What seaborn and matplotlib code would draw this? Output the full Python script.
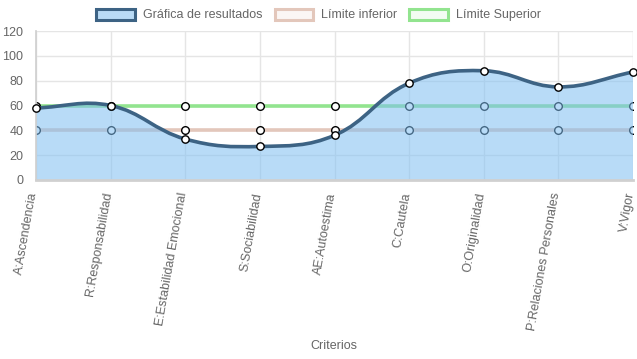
import matplotlib
matplotlib.use("Agg")
import matplotlib.pyplot as plt
import matplotlib.transforms as mtransforms
from matplotlib.path import Path
from matplotlib.patches import PathPatch, Patch
import numpy as np
import seaborn as sns

criterios = ["A:Ascendencia", "R:Responsabilidad", "E:Estabilidad Emocional",
             "S:Sociabilidad", "AE:Autoestima", "C:Cautela", "O:Originalidad",
             "P:Relaciones Personales", "V:Vigor"]
resultados = [58, 60, 33, 27, 36, 78, 88, 75, 87]
limite_inferior = [40, 40, 40, 40, 40, 40, 40, 40, 40]
limite_superior = [60, 60, 60, 60, 60, 60, 60, 60, 60]

sns.set_theme(style="white")
plt.rcParams["font.family"] = ["Liberation Sans", "DejaVu Sans"]

fig = plt.figure(figsize=(6.37, 3.59), dpi=100)
ax = fig.add_axes([36 / 637, 1 - 180 / 359, (633 - 36) / 637, (180 - 31) / 359])
x = np.arange(len(criterios))
ax.set_xlim(0, len(criterios) - 1)
ax.set_ylim(0, 120)

gray = "#666666"
grid = "#e5e5e5"
for xi in x:
    ax.axvline(xi, color=grid, lw=1, zorder=0)
for yv in range(20, 121, 20):
    ax.axhline(yv, color=grid, lw=1, zorder=0)

# limit lines
sns.lineplot(x=x, y=limite_superior, ax=ax, color="#92e48f", lw=2.6, zorder=1,
             marker="o", markersize=5.5, markerfacecolor="white",
             markeredgecolor="black", markeredgewidth=1)
sns.lineplot(x=x, y=limite_inferior, ax=ax, color="#e3c7bb", lw=2.6, zorder=1,
             marker="o", markersize=5.5, markerfacecolor="white",
             markeredgecolor="black", markeredgewidth=1)


def chartjs_path(ax, xs, ys, tension=0.4):
    # bezier control points like Chart.js, computed in pixel space
    fig.canvas.draw()
    pts = ax.transData.transform(np.column_stack([xs, ys]))
    n = len(pts)
    verts = [tuple(pts[0])]
    codes = [Path.MOVETO]
    cps = []
    for i in range(n):
        prev = pts[max(i - 1, 0)]
        cur = pts[i]
        nxt = pts[min(i + 1, n - 1)]
        d01 = np.hypot(*(cur - prev))
        d12 = np.hypot(*(nxt - cur))
        tot = d01 + d12 if d01 + d12 else 1
        fa = tension * d01 / tot
        fb = tension * d12 / tot
        cps.append((cur - fa * (nxt - prev), cur + fb * (nxt - prev)))
    for i in range(1, n):
        verts += [tuple(cps[i - 1][1]), tuple(cps[i][0]), tuple(pts[i])]
        codes += [Path.CURVE4] * 3
    inv = ax.transData.inverted()
    return inv.transform(np.array(verts)), codes


verts, codes = chartjs_path(ax, x, resultados)
fill_verts = np.vstack([verts, [[x[-1], 0], [x[0], 0], verts[0]]])
fill_codes = codes + [Path.LINETO, Path.LINETO, Path.CLOSEPOLY]
ax.add_patch(PathPatch(Path(fill_verts, fill_codes), facecolor="#7fbff2",
                       alpha=0.55, edgecolor="none", zorder=2))
ax.add_patch(PathPatch(Path(verts, codes), facecolor="none",
                       edgecolor="#3d6384", lw=2.6, zorder=3))
sns.scatterplot(x=x, y=resultados, ax=ax, color="white", edgecolor="black",
                linewidth=1, s=28, zorder=4, clip_on=False)

ax.set_xticks(x)
ax.set_xticklabels(criterios, rotation=80, ha="right", va="center",
                   rotation_mode="anchor", fontsize=9, color=gray)
ax.set_yticks(range(0, 121, 20))
ax.set_yticklabels([str(v) for v in range(0, 121, 20)], fontsize=9, color=gray)
ax.tick_params(axis="both", length=7, color=grid, width=1, pad=2)
ax.tick_params(axis="x", pad=2)
for side in ["top", "right"]:
    ax.spines[side].set_visible(False)
ax.spines["left"].set_color("#d0d0d0")
ax.spines["bottom"].set_color("#d0d0d0")
ax.spines["bottom"].set_linewidth(2)
shift = mtransforms.ScaledTranslation(-2 / 100, 0, fig.dpi_scale_trans)
for lbl in ax.get_xticklabels():
    lbl.set_transform(lbl.get_transform() + shift)

fig.text(334 / 637, 1 - 346 / 359, "Criterios", ha="center", va="center",
         fontsize=9, color=gray)

handles = [
    Patch(facecolor="#b9dbf6", edgecolor="#3d6384", lw=2.2, label="Gráfica de resultados"),
    Patch(facecolor="#fbf6f4", edgecolor="#e3c7bb", lw=2.2, label="Límite inferior"),
    Patch(facecolor="#f3fcf3", edgecolor="#92e48f", lw=2.2, label="Límite Superior"),
]
leg = fig.legend(handles=handles, loc="center", bbox_to_anchor=(0.5, 1 - 15 / 359),
                 ncol=3, frameon=False, fontsize=9, handlelength=3.1,
                 handleheight=1.0, handletextpad=0.6, columnspacing=1.0,
                 labelcolor=gray)

fig.savefig("out.png", dpi=100)
